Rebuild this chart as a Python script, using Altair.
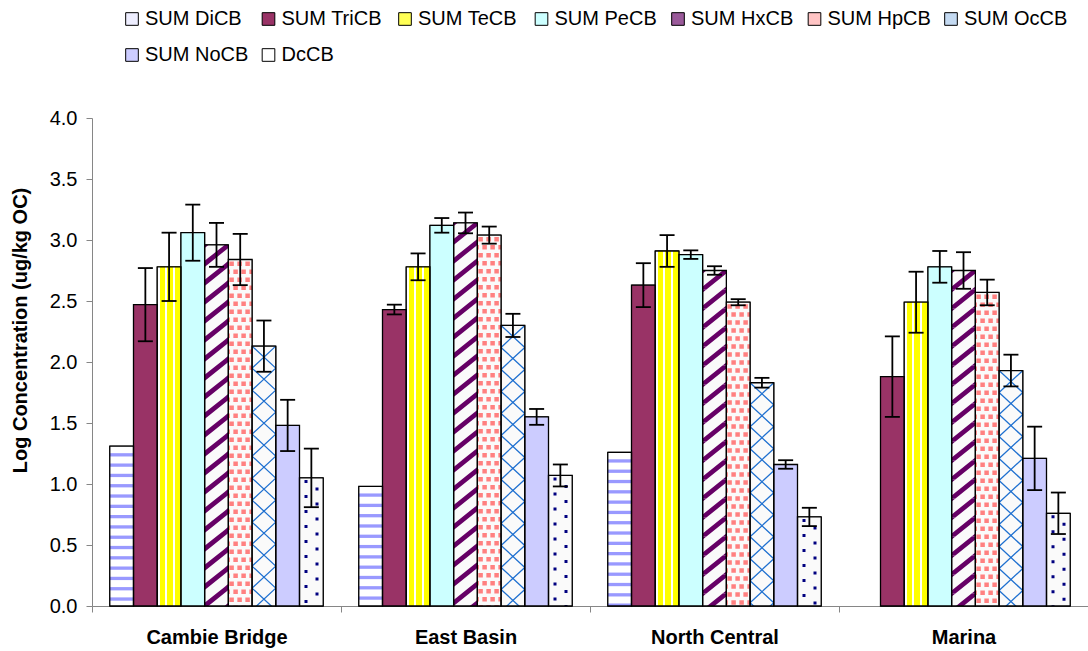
import math
import altair as alt
import pandas as pd

# ---------------- data ----------------
sites = ["Cambie Bridge", "East Basin", "North Central", "Marina"]
series = ["SUM DiCB", "SUM TriCB", "SUM TeCB", "SUM PeCB", "SUM HxCB",
          "SUM HpCB", "SUM OcCB", "SUM NoCB", "DcCB"]

val_dicb = [1.31, 0.98, 1.26, None]
val_tricb = [2.47, 2.43, 2.63, 1.88]
val_tecb = [2.78, 2.78, 2.91, 2.49]
val_pecb = [3.06, 3.12, 2.88, 2.78]
val_hxcb = [2.96, 3.14, 2.75, 2.75]
val_hpcb = [2.84, 3.04, 2.49, 2.57]
val_occb = [2.13, 2.30, 1.83, 1.93]
val_nocb = [1.48, 1.55, 1.16, 1.21]
val_dccb = [1.05, 1.07, 0.73, 0.76]

err_dicb = [None, None, None, None]
err_tricb = [0.30, 0.04, 0.18, 0.33]
err_tecb = [0.28, 0.11, 0.13, 0.25]
err_pecb = [0.23, 0.06, 0.035, 0.13]
err_hxcb = [0.18, 0.085, 0.035, 0.15]
err_hpcb = [0.21, 0.07, 0.025, 0.105]
err_occb = [0.21, 0.095, 0.04, 0.13]
err_nocb = [0.21, 0.065, 0.035, 0.26]
err_dccb = [0.24, 0.09, 0.075, 0.17]

values = dict(zip(series, [val_dicb, val_tricb, val_tecb, val_pecb, val_hxcb,
                           val_hpcb, val_occb, val_nocb, val_dccb]))
errors = dict(zip(series, [err_dicb, err_tricb, err_tecb, err_pecb, err_hxcb,
                           err_hpcb, err_occb, err_nocb, err_dccb]))

# ---------------- styling ----------------
FONT = "Liberation Sans"
GRAY = "#868686"
PLOT_W, PLOT_H = 996, 488
PPU = PLOT_H / 4.0                 # pixels per data unit
PAD_OUT = 0.75
BAR_W = (PLOT_W / len(sites)) / (len(series) + 2 * PAD_OUT)

base_fill = ["#FFFFFF", "#993366", "#FFFF00", "#CCFFFF", "#FAFAFA",
             "#FAFAFA", "#FAFAFA", "#CCCCFF", "#FAFAFA"]
legend_fill = ["#EEEEFF", "#993366", "#FFFF55", "#CCFFFF", "#9A5A9A",
               "#FFC4C4", "#C4DAF2", "#CCCCFF", "#FFFFFF"]

# ---------------- tables ----------------
rows = []
for s in series:
    for site, v, e in zip(sites, values[s], errors[s]):
        if v is None:
            continue
        r = {"site": site, "series": s, "value": v}
        if e is not None:
            r["lo"] = v - e
            r["hi"] = v + e
        rows.append(r)
df = pd.DataFrame(rows)
df_err = df.dropna(subset=["lo"])


def tiles(name, tile_h_px):
    h = tile_h_px / PPU
    out = []
    for site, v in zip(sites, values[name]):
        if v is None:
            continue
        k = 0
        while v - k * h > 0:
            out.append({"site": site, "series": name, "ty": v - (k + 0.5) * h})
            k += 1
    return pd.DataFrame(out)


def clip_poly(poly, W, H):
    def clip(pts, inside, inter):
        res = []
        n = len(pts)
        for i in range(n):
            cur, prev = pts[i], pts[i - 1]
            if inside(cur):
                if not inside(prev):
                    res.append(inter(prev, cur))
                res.append(cur)
            elif inside(prev):
                res.append(inter(prev, cur))
        return res

    def ix(p, q, xv):
        t = (xv - p[0]) / (q[0] - p[0])
        return (xv, p[1] + t * (q[1] - p[1]))

    def iy(p, q, yv):
        t = (yv - p[1]) / (q[1] - p[1])
        return (p[0] + t * (q[0] - p[0]), yv)

    for inside, inter in [
        (lambda p: p[0] >= 0, lambda p, q: ix(p, q, 0)),
        (lambda p: p[0] <= W, lambda p, q: ix(p, q, W)),
        (lambda p: p[1] >= 0, lambda p, q: iy(p, q, 0)),
        (lambda p: p[1] <= H, lambda p, q: iy(p, q, H)),
    ]:
        if not poly:
            break
        poly = clip(poly, inside, inter)
    return poly


def to_path(polys, W, H):
    r = W / 2.0
    parts = []
    for poly in polys:
        poly = clip_poly(poly, W, H)
        if len(poly) < 3:
            continue
        pts = [((x - W / 2) / r, (y - H / 2) / r) for x, y in poly]
        parts.append("M" + "L".join(f"{a:.4f},{b:.4f}" for a, b in pts) + "Z")
    return "".join(parts)


def rect(x0, y0, x1, y1):
    return [(x0, y0), (x1, y0), (x1, y1), (x0, y1)]


W = BAR_W
# horizontal stripes (DiCB)
H_DI = 10.3
path_di = to_path([rect(0, 7.0, W, 10.3)], W, H_DI)
# diagonal stripes (HxCB)
H_HX = 19.0
t = 0.32
hx_polys = []
for c in [0.0, 1.0, 2.0]:
    a, b = c - t / 2, c + t / 2
    hx_polys.append([(W * (a + 2), -2 * H_HX), (W * (b + 2), -2 * H_HX),
                     (W * (b - 3), 3 * H_HX), (W * (a - 3), 3 * H_HX)])
path_hx = to_path(hx_polys, W, H_HX)
# confetti squares (HpCB)
H_HP = 16.0
hp_polys = []
for x0 in [1, 9, 17]:
    hp_polys.append(rect(x0, 2, x0 + 4.5, 6.5))
for x0 in [-3, 5, 13, 21]:
    hp_polys.append(rect(x0, 10, x0 + 4.5, 14.5))
path_hp = to_path(hp_polys, W, H_HP)
# crosshatch (OcCB), stroked
H_OC = 22.0
h = H_OC / W
path_oc = f"M-1,{-h:.4f}L1,{h:.4f}M-1,{h:.4f}L1,{-h:.4f}"
# dots (DcCB)
H_DC = 15.0
path_dc = to_path([rect(5, 2, 8, 5), rect(16, 9.5, 19, 12.5)], W, H_DC)

# ---------------- encodings ----------------
x_axis = alt.Axis(title=None, labelFont=FONT, labelFontSize=20, labelFontWeight="bold",
                  labelColor="black", labelPadding=15, labelAngle=0, tickBand="extent",
                  tickSize=6, tickColor=GRAY, domainColor=GRAY, tickWidth=1, domainWidth=1)
y_axis = alt.Axis(title="Log Concentration (ug/kg OC)", values=[0, 0.5, 1, 1.5, 2, 2.5, 3, 3.5, 4],
                  format=".1f", grid=False, labelFont=FONT, labelFontSize=20, labelColor="black",
                  labelPadding=9, tickSize=6, tickColor=GRAY, domainColor=GRAY, tickWidth=1,
                  domainWidth=1, titleFont=FONT, titleFontSize=20, titleFontWeight="bold",
                  titleColor="black", titleAngle=270, titleAlign="center", titleBaseline="middle",
                  titleX=-72, titleY=212)
x_scale = alt.Scale(domain=sites, paddingInner=0, paddingOuter=0)
xo_scale = alt.Scale(domain=series, paddingInner=0, paddingOuter=PAD_OUT)
y_scale = alt.Scale(domain=[0, 4], nice=False, zero=True)


def X():
    return alt.X("site:N", scale=x_scale, axis=x_axis, sort=sites)


def XO():
    return alt.XOffset("series:N", scale=xo_scale, sort=series)


def Y(field):
    return alt.Y(f"{field}:Q", scale=y_scale, axis=y_axis)


# ---------------- layers ----------------
# legend carrier: drawn first, then fully covered by the real bars
legend_layer = alt.Chart(df).mark_bar(stroke="black", strokeWidth=1).encode(
    x=X(), xOffset=XO(), y=Y("value"),
    color=alt.Color("series:N", scale=alt.Scale(domain=series, range=legend_fill),
                    legend=alt.Legend(title=None, orient="none", legendX=30, legendY=-109,
                                      direction="horizontal", columns=7, gridAlign="all",
                                      symbolType="square", symbolSize=160,
                                      symbolStrokeColor="black", symbolStrokeWidth=1,
                                      symbolOpacity=1, labelFont=FONT, labelFontSize=20,
                                      labelColor="black", labelOffset=3, columnPadding=9.5,
                                      rowPadding=16, padding=0)),
)

base = alt.Chart(df).mark_bar(strokeWidth=0).encode(
    x=X(), xOffset=XO(), y=Y("value"),
    fill=alt.Fill("series:N", scale=alt.Scale(domain=series, range=base_fill), legend=None),
)

grad = alt.LinearGradient(
    gradient="linear", x1=0, x2=1, y1=0, y2=0,
    stops=[alt.GradientStop(offset=0, color="#FFFFFF"), alt.GradientStop(offset=0.1, color="#FFFFFF"),
           alt.GradientStop(offset=0.1, color="#FFFF00"), alt.GradientStop(offset=0.32, color="#FFFF00"),
           alt.GradientStop(offset=0.32, color="#FFFFFF"), alt.GradientStop(offset=0.43, color="#FFFFFF"),
           alt.GradientStop(offset=0.43, color="#FFFF00"), alt.GradientStop(offset=0.66, color="#FFFF00"),
           alt.GradientStop(offset=0.66, color="#FFFFFF"), alt.GradientStop(offset=0.77, color="#FFFFFF"),
           alt.GradientStop(offset=0.77, color="#FFFF00"), alt.GradientStop(offset=1, color="#FFFF00")])
tecb = alt.Chart(df).transform_filter(alt.datum.series == "SUM TeCB").mark_bar(
    fill=grad, strokeWidth=0).encode(x=X(), xOffset=XO(), y=Y("value"))


def pattern(name, tile_h, path, color, filled=True):
    d = tiles(name, tile_h)
    if filled:
        mk = alt.Chart(d).mark_point(shape=path, size=W * W, filled=True, fill=color,
                                     strokeWidth=0, opacity=1, clip=True)
    else:
        mk = alt.Chart(d).mark_point(shape=path, size=W * W, filled=False, stroke=color,
                                     strokeWidth=1.3, opacity=1, clip=True)
    return mk.encode(x=X(), xOffset=XO(), y=Y("ty"))


pat_layers = [
    pattern("SUM DiCB", H_DI, path_di, "#9999FF"),
    pattern("SUM HxCB", H_HX, path_hx, "#660066"),
    pattern("SUM HpCB", H_HP, path_hp, "#FF8080"),
    pattern("SUM OcCB", H_OC, path_oc, "#1F70D0", filled=False),
    pattern("DcCB", H_DC, path_dc, "#000080"),
]

outline = alt.Chart(df).mark_bar(fillOpacity=0, stroke="black", strokeWidth=1.3).encode(
    x=X(), xOffset=XO(), y=Y("value"))

rules = alt.Chart(df_err).mark_rule(color="black", strokeWidth=1.8).encode(
    x=X(), xOffset=XO(), y=Y("lo"), y2="hi")
cap_hi = alt.Chart(df_err).mark_tick(color="black", size=15, thickness=1.8, opacity=1).encode(
    x=X(), xOffset=XO(), y=Y("hi"))
cap_lo = alt.Chart(df_err).mark_tick(color="black", size=15, thickness=1.8, opacity=1).encode(
    x=X(), xOffset=XO(), y=Y("lo"))

chart = alt.layer(legend_layer, base, tecb, *pat_layers, outline, rules, cap_hi, cap_lo).properties(
    width=PLOT_W, height=PLOT_H,
    padding={"left": 92, "top": 118, "right": 0, "bottom": 45},
    autosize=alt.AutoSizeParams(type="none"),
).configure_view(strokeWidth=0)

chart.save("out.html", embed_options={"renderer": "svg", "actions": False})
